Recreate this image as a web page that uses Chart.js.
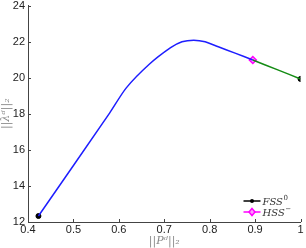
<!DOCTYPE html>
<html>
<head>
<meta charset="utf-8">
<script src="https://cdn.jsdelivr.net/npm/chart.js@4"></script>
<style>
  html, body { margin: 0; padding: 0; background: #fff; }
  #wrap { width: 306px; height: 248px; }
</style>
</head>
<body>
<div id="wrap"><canvas id="myChart"></canvas></div>
<script>
// valores
const blueX = [0.423, 0.58, 0.616, 0.667, 0.714, 0.739, 0.765, 0.79, 0.819, 0.856, 0.895];
const blueY = [12.33, 18.05, 19.42, 20.74, 21.66, 21.99, 22.08, 21.99, 21.71, 21.36, 20.98];
const greenX = [0.895, 0.95, 1.0];
const greenY = [20.98, 20.43, 19.93];
const fssX = [0.423, 1.0];
const fssY = [12.33, 19.93];
const hssX = [0.895];
const hssY = [20.98];
const xTicks = [0.4, 0.5, 0.6, 0.7, 0.8, 0.9, 1];
const yTicks = [12, 14, 16, 18, 20, 22, 24];

const toPts = (xs, ys) => xs.map((x, i) => ({ x: x, y: ys[i] }));

// ticks hacia adentro, estilo matlab
const inwardTicks = {
  id: "inwardTicks",
  afterDraw(chart) {
    const ctx = chart.ctx;
    const xs = chart.scales.x;
    const ys = chart.scales.y;
    ctx.save();
    ctx.strokeStyle = "#444";
    ctx.lineWidth = 1;
    xTicks.forEach((t) => {
      const px = Math.round(xs.getPixelForValue(t)) + 0.5;
      ctx.beginPath();
      ctx.moveTo(px, ys.bottom);
      ctx.lineTo(px, ys.bottom - 3);
      ctx.stroke();
    });
    yTicks.forEach((t) => {
      const py = Math.round(ys.getPixelForValue(t)) + 0.5;
      ctx.beginPath();
      ctx.moveTo(xs.left, py);
      ctx.lineTo(xs.left + 3, py);
      ctx.stroke();
    });
    ctx.restore();
  },
};

// leyenda dentro del area
const innerLegend = {
  id: "innerLegend",
  afterDraw(chart) {
    const ctx = chart.ctx;
    const area = chart.chartArea;
    const x0 = area.right - 57;
    const rows = [
      { y: area.bottom - 21, color: "#000", label: "FSS", sup: "0", marker: "dot" },
      { y: area.bottom - 10, color: "#ff00ff", label: "HSS", sup: "\u2212", marker: "diamond" },
    ];
    ctx.save();
    rows.forEach((r) => {
      ctx.strokeStyle = r.color;
      ctx.lineWidth = 1.5;
      ctx.beginPath();
      ctx.moveTo(x0, r.y);
      ctx.lineTo(x0 + 17, r.y);
      ctx.stroke();
      const cx = x0 + 8.5;
      if (r.marker === "dot") {
        ctx.fillStyle = "#000";
        ctx.beginPath();
        ctx.arc(cx, r.y, 2, 0, Math.PI * 2);
        ctx.fill();
      } else {
        ctx.fillStyle = "#ff99ff";
        ctx.beginPath();
        ctx.moveTo(cx, r.y - 3.5);
        ctx.lineTo(cx + 3, r.y);
        ctx.lineTo(cx, r.y + 3.5);
        ctx.lineTo(cx - 3, r.y);
        ctx.closePath();
        ctx.fill();
        ctx.stroke();
      }
      ctx.fillStyle = "#333";
      ctx.textBaseline = "middle";
      ctx.font = "italic 10px 'DejaVu Serif'";
      ctx.fillText(r.label, x0 + 19, r.y + 1);
      const w = ctx.measureText(r.label).width;
      ctx.font = "7px 'DejaVu Serif'";
      ctx.fillText(r.sup, x0 + 19 + w + 0.5, r.y - 3);
    });
    ctx.restore();
  },
};

const data = {
  datasets: [
    {
      label: "blue",
      data: toPts(blueX, blueY),
      showLine: true,
      borderColor: "rgb(30, 30, 255)",
      borderWidth: 1.5,
      pointRadius: 0,
      tension: 0.25,
    },
    {
      label: "green",
      data: toPts(greenX, greenY),
      showLine: true,
      borderColor: "rgb(20, 140, 20)",
      borderWidth: 1.5,
      pointRadius: 0,
      tension: 0.2,
    },
    {
      label: "FSS",
      data: toPts(fssX, fssY),
      showLine: false,
      pointRadius: 2.5,
      pointBackgroundColor: "#000",
      pointBorderColor: "#000",
    },
    {
      label: "HSS",
      data: toPts(hssX, hssY),
      showLine: false,
      pointStyle: "rectRot",
      pointRadius: 3.5,
      pointBackgroundColor: "#ff99ff",
      pointBorderColor: "#ff00ff",
      pointBorderWidth: 1.5,
    },
  ],
};

const config = {
  type: "scatter",
  data,
  options: {
    responsive: true,
    maintainAspectRatio: false,
    animation: false,
    layout: { padding: 0 },
    plugins: { legend: { display: false }, tooltip: { enabled: false } },
    scales: {
      x: {
        type: "linear",
        min: 0.4,
        max: 1,
        afterBuildTicks: (s) => { s.ticks = xTicks.map((v) => ({ value: v })); },
        afterFit: (s) => {
          s.height = 26;
          s.paddingRight = 2;
        },
        grid: { display: false, drawTicks: false },
        border: { display: true, color: "#444", width: 1 },
        ticks: {
          color: "#222",
          font: { family: "Liberation Sans", size: 11 },
          padding: 1,
          maxRotation: 0,
          callback: (v) => String(v),
        },
        title: {
          display: true,
          text: "||P\u1D48||\u2082",
          color: "#888",
          font: { family: "DejaVu Serif", size: 11, style: "italic" },
          padding: { top: -2, bottom: 0 },
        },
      },
      y: {
        type: "linear",
        min: 12,
        max: 24,
        afterBuildTicks: (s) => { s.ticks = yTicks.map((v) => ({ value: v })); },
        afterFit: (s) => {
          s.width = 28;
          s.paddingTop = 3;
        },
        grid: { display: false, drawTicks: false },
        border: { display: true, color: "#444", width: 1 },
        ticks: {
          color: "#222",
          font: { family: "Liberation Sans", size: 11 },
          padding: 3,
        },
        title: {
          display: true,
          text: "||\u03BB\u1D48||\u2082",
          color: "#888",
          font: { family: "DejaVu Serif", size: 11, style: "italic" },
          padding: { top: 0, bottom: -2 },
        },
      },
    },
  },
  plugins: [inwardTicks, innerLegend],
};

new Chart(document.getElementById("myChart"), config);
</script>
</body>
</html>
